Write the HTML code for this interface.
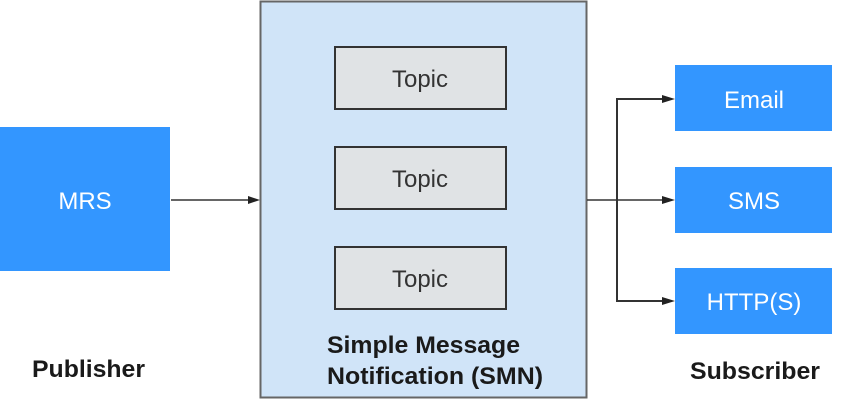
<!DOCTYPE html>
<html><head><style>
body{margin:0;width:868px;height:406px;background:#fff;overflow:hidden;font-family:"Liberation Sans",sans-serif}
</style></head><body>
<svg width="868" height="406" xmlns="http://www.w3.org/2000/svg" font-family="Liberation Sans, sans-serif">
<rect x="260.5" y="1.5" width="326" height="396" fill="#d0e4f8" stroke="#666" stroke-width="2"/>
<g fill="#e0e3e5" stroke="#333" stroke-width="2">
<rect x="335" y="47" width="171" height="62"/>
<rect x="335" y="147" width="171" height="62"/>
<rect x="335" y="247" width="171" height="62"/>
</g>
<g font-size="24" fill="#333" text-anchor="middle">
<text x="420" y="87">Topic</text><text x="420" y="187">Topic</text><text x="420" y="287">Topic</text>
</g>
<g font-size="24" font-weight="bold" fill="#1a1a1a">
<text x="327" y="353" textLength="193" lengthAdjust="spacingAndGlyphs">Simple Message</text>
<text x="327" y="384" textLength="216" lengthAdjust="spacingAndGlyphs">Notification (SMN)</text>
<text x="32" y="377" textLength="113" lengthAdjust="spacingAndGlyphs">Publisher</text>
<text x="690" y="379" textLength="130" lengthAdjust="spacingAndGlyphs">Subscriber</text>
</g>
<rect x="0" y="127" width="170" height="144" fill="#3396ff"/>
<rect x="675" y="65" width="157" height="66" fill="#3396ff"/>
<rect x="675" y="167" width="157" height="66" fill="#3396ff"/>
<rect x="675" y="268" width="157" height="66" fill="#3396ff"/>
<g font-size="24" fill="#fff" text-anchor="middle">
<text x="85" y="209">MRS</text>
<text x="754" y="108">Email</text>
<text x="754" y="209">SMS</text>
<text x="754" y="310">HTTP(S)</text>
</g>
<g stroke="#333" stroke-width="1.5" fill="none">
<line x1="171" y1="200" x2="250" y2="200"/>
<line x1="587" y1="200" x2="664" y2="200"/>
<polyline points="664,99 617,99 617,301 664,301" stroke-width="2"/>
</g>
<path d="M248,196 L260,200 L248,204z M662,196 L675,200 L662,204z M662,95 L675,99 L662,103z M662,297 L675,301 L662,305z" fill="#222"/>
</svg>
</body></html>
